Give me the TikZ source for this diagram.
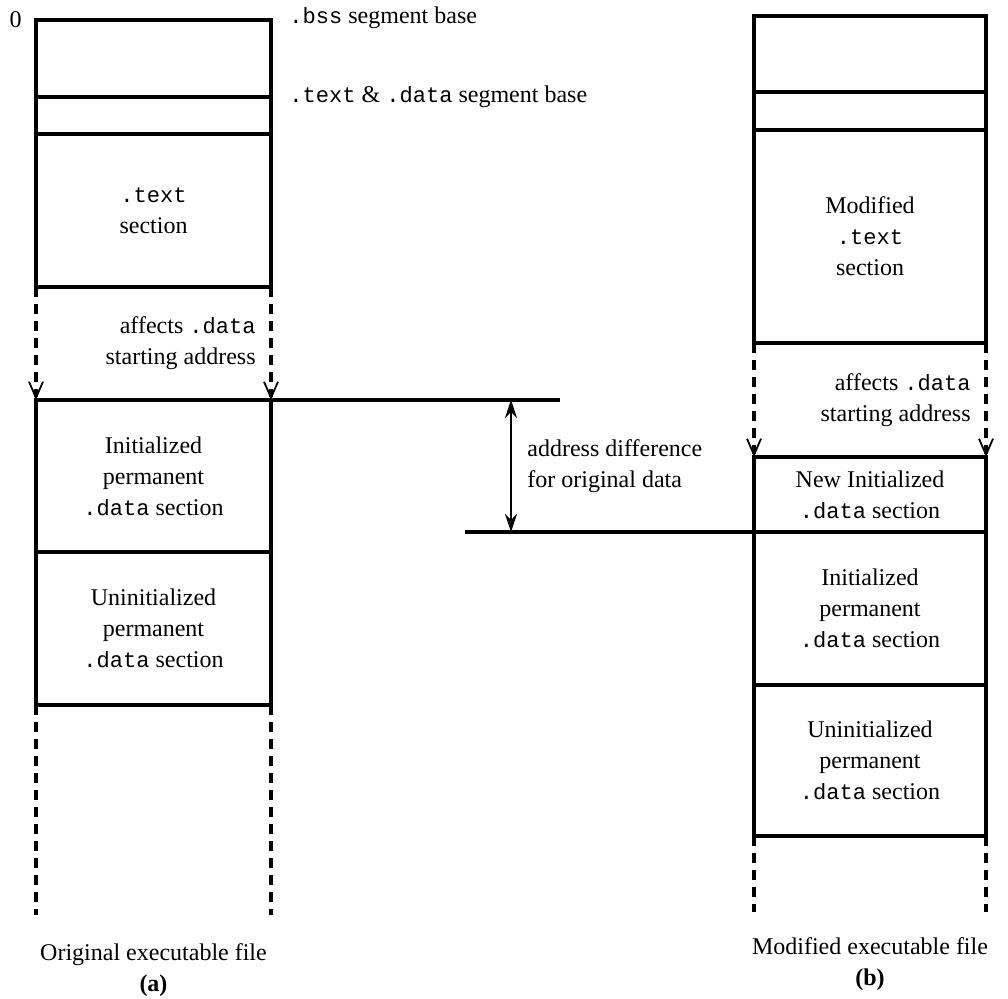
\documentclass[tikz,border=0pt]{standalone}
\usepackage{fontspec}
\setmainfont{Liberation Serif}
\setmonofont[Scale=0.92]{Liberation Mono}
\usetikzlibrary{positioning,arrows.meta,calc}

\begin{document}
\begin{tikzpicture}[x=0.5pt,y=-0.5pt,node distance=0pt,
                    every node/.style={font=\fontsize{12}{15.5}\selectfont, align=center, inner sep=0pt},
                    sect/.style={draw, line width=1.6pt, minimum width=117.5pt, outer sep=0pt},
                    sectb/.style={sect, minimum width=116pt},
                    dashline/.style={line width=1.6pt, dash pattern=on 5pt off 3.5pt},
                    vtip/.style={-{Straight Barb[length=8pt,width=7pt,line width=0.9pt]}}]
\useasboundingbox (0,0) rectangle (1008,999);
% original file
\node[sect, minimum height=38.5pt, anchor=north west] (bssA) at (36,20) {};
\node[sect, minimum height=18.5pt, below=of bssA] (gapA) {};
\node[sect, minimum height=76.5pt, below=of gapA] (textA) {\texttt{.text}\\section};
\node[sect, minimum height=76pt, below=56.5pt of textA] (initA) {Initialized\\permanent\\\texttt{.data} section};
\node[sect, minimum height=76.5pt, below=of initA] (uninitA) {Uninitialized\\permanent\\\texttt{.data} section};
\node[left=7pt of bssA.north west] (zero) {0};
\node[right=9pt of bssA.north east, yshift=1pt] (bssLbl) {\texttt{.bss} segment base};
\node[right=9pt of gapA.north east] (segLbl) {\texttt{.text} \& \texttt{.data} segment base};
% modified file
\node[sectb, minimum height=38pt, anchor=north west] (bssB) at (754,16) {};
\node[sectb, minimum height=19pt, below=of bssB] (gapB) {};
\node[sectb, minimum height=106.5pt, below=of gapB] (textB) {Modified\\\texttt{.text}\\section};
\node[sectb, minimum height=37.5pt, below=57pt of textB] (newB) {New Initialized\\\texttt{.data} section};
\node[sectb, minimum height=76.5pt, below=of newB] (initB) {Initialized\\permanent\\\texttt{.data} section};
\node[sectb, minimum height=75.5pt, below=of initB] (uninitB) {Uninitialized\\permanent\\\texttt{.data} section};
% .data start moves
\draw[dashline, vtip] (textA.south west) -- (initA.north west);
\draw[dashline, vtip] (textA.south east) -- (initA.north east);
\draw[dashline, vtip] (textB.south west) -- (newB.north west);
\draw[dashline, vtip] (textB.south east) -- (newB.north east);
\node[anchor=east, align=right] (affA) at ($(textA.south east)!0.5!(initA.north east)+(-15,0)$) {affects \texttt{.data}\\starting address};
\node[anchor=east, align=right] (affB) at ($(textB.south east)!0.5!(newB.north east)+(-15,0)$) {affects \texttt{.data}\\starting address};
% open ends
\coordinate[below=105pt of uninitA.south west] (tailA1);
\coordinate[below=105pt of uninitA.south east] (tailA2);
\coordinate[below=38pt of uninitB.south west] (tailB1);
\coordinate[below=38pt of uninitB.south east] (tailB2);
\draw[dashline] (uninitA.south west) -- (tailA1);
\draw[dashline] (uninitA.south east) -- (tailA2);
\draw[dashline] (uninitB.south west) -- (tailB1);
\draw[dashline] (uninitB.south east) -- (tailB2);
\node (capA) at ($(tailA1)!0.5!(tailA2)+(0,55)$) {Original executable file\\\textbf{(a)}};
\node (capB) at ($(tailB1)!0.5!(tailB2)+(0,52)$) {Modified executable file\\\textbf{(b)}};
% address difference
\coordinate[right=144.5pt of initA.north east] (diffTop);
\coordinate[left=144.5pt of initB.north west] (diffBot);
\draw[line width=1.6pt] (initA.north east) -- (diffTop);
\draw[line width=1.6pt] (diffBot) -- (initB.north west);
\coordinate[left=24.5pt of diffTop] (arrTop);
\coordinate (arrBot) at (arrTop |- diffBot);
\draw[line width=1.1pt, {Stealth[length=9pt,width=6pt]}-{Stealth[length=9pt,width=6pt]}] (arrTop) -- (arrBot);
\node[anchor=west, align=left] (diffLbl) at ($(arrTop)!0.5!(arrBot)+(16,0)$) {address difference\\for original data};
\end{tikzpicture}
\end{document}
